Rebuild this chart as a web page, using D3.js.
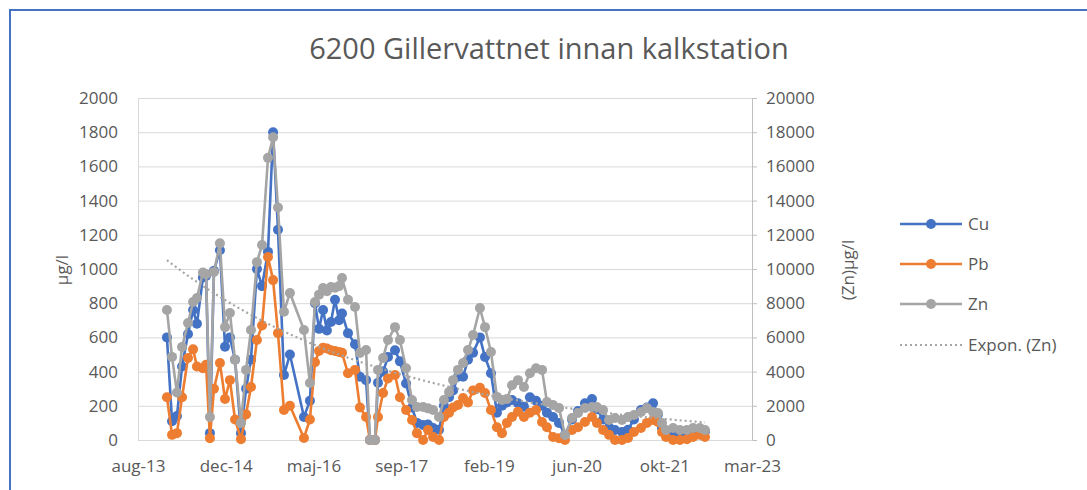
<!DOCTYPE html>
<html>
<head>
<meta charset="utf-8">
<script src="https://cdn.jsdelivr.net/npm/d3@7"></script>
<style>
  body { margin: 0; background: #fff; }
  text { font-family: "Open Sans", sans-serif; fill: #595959; }
</style>
</head>
<body>
<script>
// sampling dates and concentrations (µg/l)
const dates = [
  "2014-01-26","2014-02-24","2014-03-24","2014-04-22","2014-05-26","2014-06-24","2014-07-16","2014-08-19",
  "2014-09-06","2014-09-28","2014-10-21","2014-11-24","2014-12-23","2015-01-20","2015-02-18","2015-03-24",
  "2015-04-22","2015-05-20","2015-06-23","2015-07-22","2015-08-25","2015-09-23","2015-10-21","2015-11-24",
  "2015-12-28","2016-03-17","2016-04-20","2016-05-19","2016-06-11","2016-07-04","2016-07-26","2016-08-18",
  "2016-09-10","2016-10-03","2016-10-20","2016-11-23","2017-01-02","2017-01-30","2017-03-06","2017-03-28",
  "2017-04-26","2017-05-13","2017-06-11","2017-07-09","2017-08-18","2017-09-15","2017-10-20","2017-11-23",
  "2017-12-21","2018-01-25","2018-02-22","2018-03-23","2018-04-26","2018-05-24","2018-06-22","2018-07-15",
  "2018-08-12","2018-09-10","2018-10-08","2018-11-06","2018-12-15","2019-01-13","2019-02-16","2019-03-22",
  "2019-04-20","2019-05-18","2019-06-16","2019-07-20","2019-08-23","2019-09-26","2019-10-31","2019-12-04",
  "2020-01-01","2020-02-05","2020-03-10","2020-04-13","2020-05-23","2020-06-26","2020-08-05","2020-09-14",
  "2020-10-12","2020-11-16","2020-12-20","2021-01-23","2021-03-04","2021-04-07","2021-05-11","2021-06-20",
  "2021-07-24","2021-08-28","2021-09-25","2021-10-18","2021-11-10","2021-12-20","2022-01-28","2022-03-09",
  "2022-04-13","2022-05-22","2022-06-20"
];
const cu = [
  600,110,140,430,620,760,680,950, 960,40,990,1110,545,600,470,40,
  300,470,1000,900,1100,1800,1230,380, 500,135,230,800,650,760,640,690,
  820,700,740,625,560,370,350,0, 0,335,400,485,525,460,330,190,
  100,88,90,70,60,200,250,290, 370,370,470,510,600,485,390,160,
  200,220,234,215,195,250,230,200, 160,135,100,30,120,170,215,240,
  180,120,75,58,47,60,120,175, 190,215,150,70,30,30,40,40,
  50,60,50
];
const pb = [
  250,30,40,250,480,530,430,420, 440,10,300,450,240,350,120,5,
  150,310,585,670,1070,935,625,175, 200,12,120,455,520,540,535,525,
  520,515,510,390,410,190,135,0, 0,135,275,360,380,250,175,117,
  40,0,58,18,0,135,160,190, 205,245,220,290,305,275,175,75,
  40,100,135,165,135,160,175,105, 75,18,10,0,58,75,105,135,
  100,58,30,0,0,12,47,70, 100,117,105,47,18,0,0,5,
  18,30,18
];
const zn = [
  7600,4860,2780,5440,6840,8070,8300,9800, 9700,1350,9830,11500,6600,7430,4700,1000,
  4100,6430,10400,11400,16500,17700,13600,7500, 8600,6430,3330,8070,8500,8890,8700,8950,
  8900,9000,9470,8200,7780,5090,5260,0, 0,4100,4800,5850,6600,5850,4200,2340,
  1930,1930,1850,1750,1350,2340,2800,3500, 4100,4500,5260,6140,7720,6600,5150,2520,
  2340,2400,3200,3500,3100,3900,4200,4100, 2220,2050,1870,290,1290,1580,1870,1930,
  1930,1750,1170,1290,1170,1350,1460,1640, 1870,1640,1580,990,580,700,580,580,
  700,700,580
];

const leftTicks = [0, 200, 400, 600, 800, 1000, 1200, 1400, 1600, 1800, 2000];
const rightTicks = [0, 2000, 4000, 6000, 8000, 10000, 12000, 14000, 16000, 18000, 20000];
const xTickDates = ["2013-08-14","2014-12-27","2016-05-10","2017-09-22","2019-02-04","2020-06-18","2021-10-31","2023-03-15"];
const monthNames = ["jan","feb","mar","apr","maj","jun","jul","aug","sep","okt","nov","dec"];

const series = [
  { name: "Cu", values: cu, color: "#4472c4", axis: "left" },
  { name: "Pb", values: pb, color: "#ed7d31", axis: "left" },
  { name: "Zn", values: zn, color: "#a5a5a5", axis: "right" }
];

const W = 1087, H = 490;
const plot = { left: 138, right: 752, top: 98, bottom: 440 };
const parse = d3.utcParse("%Y-%m-%d");
const dateObjs = dates.map(parse);
const tickObjs = xTickDates.map(parse);

const svg = d3.select("body").append("svg")
  .attr("width", W)
  .attr("height", H);

// outer frame
svg.append("rect").attr("width", W).attr("height", H).attr("fill", "#fff");
svg.append("path")
  .attr("d", `M10,${H} V10 H${W}`)
  .attr("fill", "none")
  .attr("stroke", "#4472c4")
  .attr("stroke-width", 2);

const x = d3.scaleUtc()
  .domain([tickObjs[0], tickObjs[tickObjs.length - 1]])
  .range([plot.left, plot.right]);
const yLeft = d3.scaleLinear().domain([0, 2000]).range([plot.bottom, plot.top]);
const yRight = d3.scaleLinear().domain([0, 20000]).range([plot.bottom, plot.top]);

// gridlines
svg.append("g")
  .attr("transform", `translate(${plot.left},0)`)
  .call(d3.axisLeft(yLeft).tickValues(leftTicks).tickSize(-(plot.right - plot.left)).tickFormat(""))
  .call(g => g.select(".domain").remove())
  .call(g => g.selectAll(".tick line").attr("stroke", "#d9d9d9"));

// left axis
svg.append("g")
  .attr("transform", `translate(${plot.left},0)`)
  .call(d3.axisLeft(yLeft).tickValues(leftTicks).tickSize(0).tickPadding(20).tickFormat(d3.format("d")))
  .call(g => g.select(".domain").attr("stroke", "#d9d9d9"))
  .call(g => g.selectAll(".tick text").style("font-size", "17px").attr("fill", "#595959"));

// right axis
svg.append("g")
  .attr("transform", `translate(${plot.right},0)`)
  .call(d3.axisRight(yRight).tickValues(rightTicks).tickSize(5).tickPadding(9).tickFormat(d3.format("d")))
  .call(g => g.select(".domain").attr("stroke", "#bfbfbf"))
  .call(g => g.selectAll(".tick line").attr("stroke", "#bfbfbf"))
  .call(g => g.selectAll(".tick text").style("font-size", "17px").attr("fill", "#595959"));

// bottom axis
const fmtDate = d => monthNames[d.getUTCMonth()] + "-" + d3.utcFormat("%y")(d);
svg.append("g")
  .attr("transform", `translate(0,${plot.bottom})`)
  .call(d3.axisBottom(x).tickValues(tickObjs).tickSize(0).tickPadding(20).tickFormat(fmtDate))
  .call(g => g.select(".domain").attr("stroke", "#d9d9d9"))
  .call(g => g.selectAll(".tick text").style("font-size", "17px").attr("fill", "#595959"));

// series
series.forEach(s => {
  const y = s.axis === "left" ? yLeft : yRight;
  const pts = s.values.map((v, i) => [dateObjs[i], v]);
  const line = d3.line().x(d => x(d[0])).y(d => y(d[1]));
  const g = svg.append("g");
  g.append("path")
    .datum(pts)
    .attr("fill", "none")
    .attr("stroke", s.color)
    .attr("stroke-width", 2.6)
    .attr("stroke-linejoin", "round")
    .attr("d", line);
  g.selectAll("circle")
    .data(pts)
    .enter()
    .append("circle")
    .attr("cx", d => x(d[0]))
    .attr("cy", d => y(d[1]))
    .attr("r", 5)
    .attr("fill", s.color);
});

// exponential trendline for Zn (least squares on ln values)
const t0 = dateObjs[0].getTime();
const fitPts = zn.map((v, i) => [(dateObjs[i].getTime() - t0) / 864e5, v]).filter(d => d[1] > 0);
const mx = d3.mean(fitPts, d => d[0]);
const my = d3.mean(fitPts, d => Math.log(d[1]));
const b = d3.sum(fitPts, d => (d[0] - mx) * (Math.log(d[1]) - my)) / d3.sum(fitPts, d => (d[0] - mx) ** 2);
const a = Math.exp(my - b * mx);
const trendPts = dateObjs.map(d => [d, a * Math.exp(b * (d.getTime() - t0) / 864e5)]);
svg.append("path")
  .datum(trendPts)
  .attr("fill", "none")
  .attr("stroke", "#a5a5a5")
  .attr("stroke-width", 2.2)
  .attr("stroke-dasharray", "2,3")
  .attr("d", d3.line().x(d => x(d[0])).y(d => yRight(d[1])));

// titles
svg.append("text")
  .attr("x", 549)
  .attr("y", 59)
  .attr("text-anchor", "middle")
  .style("font-size", "29px")
  .text("6200 Gillervattnet innan kalkstation");

svg.append("text")
  .attr("transform", "translate(68,270) rotate(-90)")
  .attr("text-anchor", "middle")
  .style("font-size", "17px")
  .text("µg/l");

svg.append("text")
  .attr("transform", "translate(854,270) rotate(-90)")
  .attr("text-anchor", "middle")
  .style("font-size", "17px")
  .text("(Zn)µg/l");

// legend
const legendItems = series.map(s => ({ name: s.name, color: s.color, dotted: false }))
  .concat([{ name: "Expon. (Zn)", color: "#a5a5a5", dotted: true }]);
const legendY = [224, 264, 304, 345];
const lg = svg.append("g");
legendItems.forEach((item, i) => {
  const row = lg.append("g").attr("transform", `translate(0,${legendY[i]})`);
  row.append("line")
    .attr("x1", 900).attr("x2", 962)
    .attr("stroke", item.color)
    .attr("stroke-width", item.dotted ? 2.2 : 2.6)
    .attr("stroke-dasharray", item.dotted ? "2,3" : null);
  if (!item.dotted) {
    row.append("circle").attr("cx", 931).attr("r", 5).attr("fill", item.color);
  }
  row.append("text")
    .attr("x", 968)
    .attr("dy", "0.35em")
    .style("font-size", "17px")
    .text(item.name);
});
</script>
</body>
</html>
